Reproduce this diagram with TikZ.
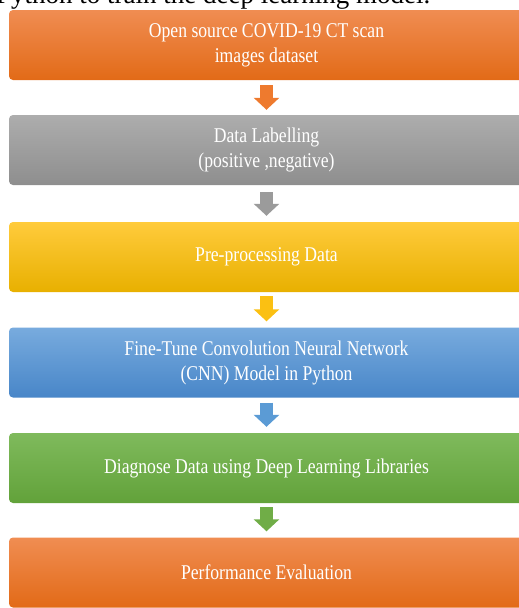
\documentclass[tikz,border=0pt]{standalone}
\usepackage{fontspec}
\setmainfont{Liberation Serif}
\newfontfamily\boxfont{Liberation Serif}[FakeStretch=0.84]
\usetikzlibrary{arrows.meta}
\definecolor{orangeT}{HTML}{F08D52}
\definecolor{orangeB}{HTML}{E26A17}
\definecolor{orangeA}{HTML}{EE7A2E}
\definecolor{grayT}{HTML}{ADADAD}
\definecolor{grayB}{HTML}{8E8E8E}
\definecolor{grayA}{HTML}{9B9B9B}
\definecolor{goldT}{HTML}{FFCB3C}
\definecolor{goldB}{HTML}{E8B000}
\definecolor{goldA}{HTML}{FBC012}
\definecolor{blueT}{HTML}{78ABDE}
\definecolor{blueB}{HTML}{4886C8}
\definecolor{blueA}{HTML}{5B9BD5}
\definecolor{greenT}{HTML}{7FBA5C}
\definecolor{greenB}{HTML}{62A23A}
\definecolor{greenA}{HTML}{70AD47}
\begin{document}
\begin{tikzpicture}[x=1pt,y=-1pt,
  stage/.style 2 args={rounded corners=4pt,minimum width=515pt,minimum height=70pt,
    top color=#1,bottom color=#2,text=white,align=center,
    font=\boxfont\fontsize{21}{25}\selectfont},
  flow/.style={line width=13pt,draw=#1,-{Triangle[width=25pt,length=12pt]}}]
  \useasboundingbox (0,0) rectangle (519,608);
  \clip (0,0) rectangle (519,608);
  % line of the page above the chart
  \node[anchor=base west,inner sep=0,font=\fontsize{27}{30}\selectfont] (caption) at (-4,3.7) {Python to train the deep learning model.};
  \node[stage={orangeT}{orangeB}] (dataset) at (266.5,45) {Open source COVID-19 CT scan\\images dataset};
  \node[stage={grayT}{grayB}] (labelling) at (266.5,150) {Data Labelling\\(positive ,negative)};
  \node[stage={goldT}{goldB}] (preproc) at (266.5,257) {Pre-processing Data};
  \node[stage={blueT}{blueB}] (cnn) at (266.5,362.5) {Fine-Tune Convolution Neural Network\\(CNN) Model in Python};
  \node[stage={greenT}{greenB}] (diagnose) at (266.5,468) {Diagnose Data using Deep Learning Libraries};
  \node[stage={orangeT}{orangeB}] (evaluation) at (266.5,572.5) {Performance Evaluation};
  \draw[flow=orangeA] ([yshift=-5pt]dataset.south) -- ([yshift=5pt]labelling.north);
  \draw[flow=grayA] ([yshift=-7pt]labelling.south) -- ([yshift=6pt]preproc.north);
  \draw[flow=goldA] ([yshift=-4pt]preproc.south) -- ([yshift=6pt]cnn.north);
  \draw[flow=blueA] ([yshift=-5pt]cnn.south) -- ([yshift=6pt]diagnose.north);
  \draw[flow=greenA] ([yshift=-4pt]diagnose.south) -- ([yshift=6pt]evaluation.north);
\end{tikzpicture}
\end{document}
